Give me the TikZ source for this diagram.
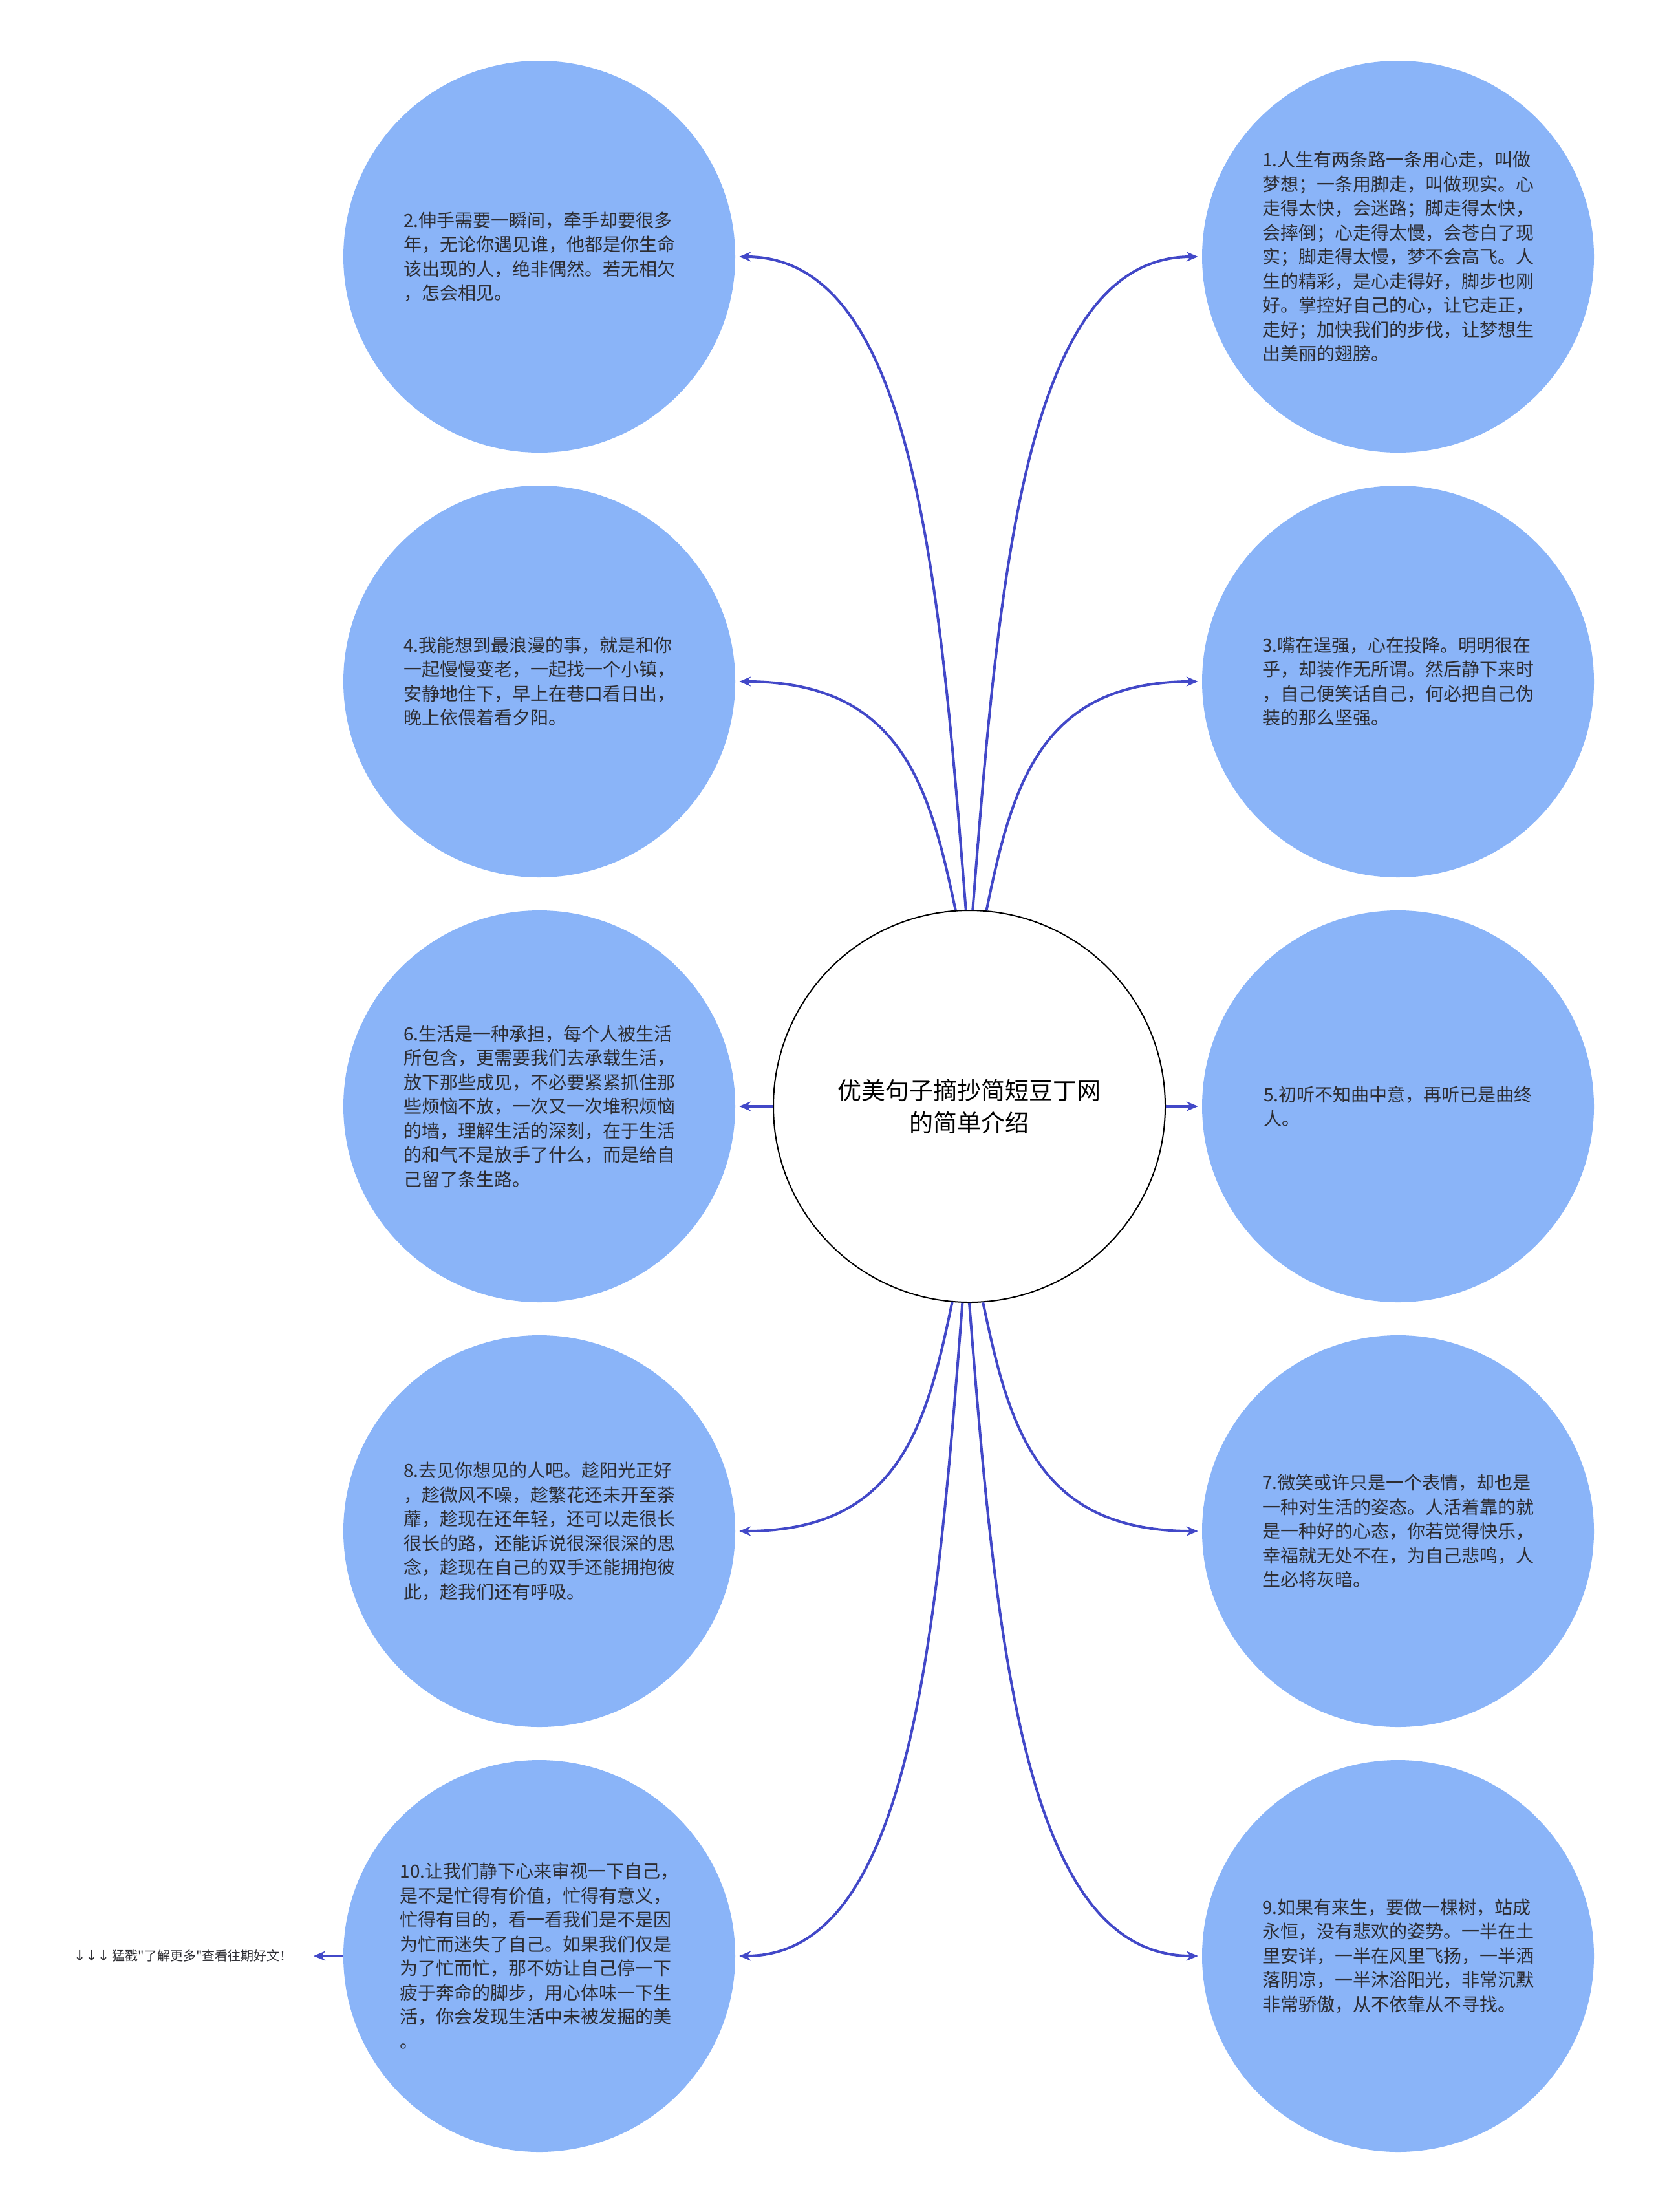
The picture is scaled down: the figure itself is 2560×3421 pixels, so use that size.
\documentclass[tikz,border=0pt]{standalone}
\usepackage{fontspec}
\newfontfamily\cjk{Noto Sans CJK SC}
\newfontfamily\arrowfont{DejaVu Sans}
\usetikzlibrary{arrows.meta,calc}
\definecolor{bubble}{RGB}{138,180,248}
\definecolor{linkc}{RGB}{66,72,200}
\definecolor{txt}{RGB}{45,45,50}
\newcommand\linkto[2]{%
  \coordinate (aux) at ($(#1|-#2)!0.22!(#2)$);
  \draw[conn] (#1) .. controls ($(#1)!0.53!(aux)$) and ($(#2)!0.76!(#1|-#2)$) .. (#2);}
\begin{document}
\begin{tikzpicture}[x=1pt,y=-1pt,
  bub/.style={circle,fill=bubble,minimum size=606pt,inner sep=0pt,
    font=\cjk\fontsize{28pt}{37.5pt}\selectfont,text=txt,align=left},
  hub/.style={circle,draw=black,line width=2pt,fill=white,minimum size=606pt,inner sep=0pt,
    font=\cjk\fontsize{37pt}{50pt}\selectfont,text=black,align=center},
  conn/.style={draw=linkc,line width=4pt,-{Stealth[length=18pt,width=15pt]},shorten >=6pt},
  moretext/.style={font=\cjk\fontsize{20pt}{24pt}\selectfont,text=txt,inner sep=0pt}]
\useasboundingbox (0,0) rectangle (2560,3421);

\node[hub] (c) at (1499,1711) {优美句子摘抄简短豆丁网\\的简单介绍};

\node[bub] (L1) at (834,397) {2.伸手需要一瞬间，牵手却要很多\\年，无论你遇见谁，他都是你生命\\该出现的人，绝非偶然。若无相欠\\，怎会相见。};
\node[bub] (R1) at (2162,397) {1.人生有两条路一条用心走，叫做\\梦想；一条用脚走，叫做现实。心\\走得太快，会迷路；脚走得太快，\\会摔倒；心走得太慢，会苍白了现\\实；脚走得太慢，梦不会高飞。人\\生的精彩，是心走得好，脚步也刚\\好。掌控好自己的心，让它走正，\\走好；加快我们的步伐，让梦想生\\出美丽的翅膀。};
\node[bub] (L2) at (834,1054) {4.我能想到最浪漫的事，就是和你\\一起慢慢变老，一起找一个小镇，\\安静地住下，早上在巷口看日出，\\晚上依偎着看夕阳。};
\node[bub] (R2) at (2162,1054) {3.嘴在逞强，心在投降。明明很在\\乎，却装作无所谓。然后静下来时\\，自己便笑话自己，何必把自己伪\\装的那么坚强。};
\node[bub] (L3) at (834,1711) {6.生活是一种承担，每个人被生活\\所包含，更需要我们去承载生活，\\放下那些成见，不必要紧紧抓住那\\些烦恼不放，一次又一次堆积烦恼\\的墙，理解生活的深刻，在于生活\\的和气不是放手了什么，而是给自\\己留了条生路。};
\node[bub] (R3) at (2162,1711) {5.初听不知曲中意，再听已是曲终\\人。};
\node[bub] (L4) at (834,2368) {8.去见你想见的人吧。趁阳光正好\\，趁微风不噪，趁繁花还未开至荼\\蘼，趁现在还年轻，还可以走很长\\很长的路，还能诉说很深很深的思\\念，趁现在自己的双手还能拥抱彼\\此，趁我们还有呼吸。};
\node[bub] (R4) at (2162,2368) {7.微笑或许只是一个表情，却也是\\一种对生活的姿态。人活着靠的就\\是一种好的心态，你若觉得快乐，\\幸福就无处不在，为自己悲鸣，人\\生必将灰暗。};
\node[bub] (L5) at (834,3025) {10.让我们静下心来审视一下自己，\\是不是忙得有价值，忙得有意义，\\忙得有目的，看一看我们是不是因\\为忙而迷失了自己。如果我们仅是\\为了忙而忙，那不妨让自己停一下\\疲于奔命的脚步，用心体味一下生\\活，你会发现生活中未被发掘的美\\。};
\node[bub] (R5) at (2162,3025) {9.如果有来生，要做一棵树，站成\\永恒，没有悲欢的姿势。一半在土\\里安详，一半在风里飞扬，一半洒\\落阴凉，一半沐浴阳光，非常沉默\\非常骄傲，从不依靠从不寻找。};

\node[moretext,anchor=east] (more) at (453,3025) {{\arrowfont\fontsize{22pt}{24pt}\selectfont ↓↓↓} 猛戳"了解更多"查看往期好文！};

\linkto{c.94.7}{L2.east}
\linkto{c.91.1}{L1.east}
\linkto{c.89.2}{R1.west}
\linkto{c.85.5}{R2.west}
\linkto{c.265.3}{L4.east}
\linkto{c.268.9}{L5.east}
\linkto{c.270.8}{R5.west}
\linkto{c.274.5}{R4.west}
\draw[conn] (c.west) -- (L3.east);
\draw[conn] (c.east) -- (R3.west);
\draw[conn,shorten >=32pt] (L5.west) -- (more.east);
\end{tikzpicture}
\end{document}
